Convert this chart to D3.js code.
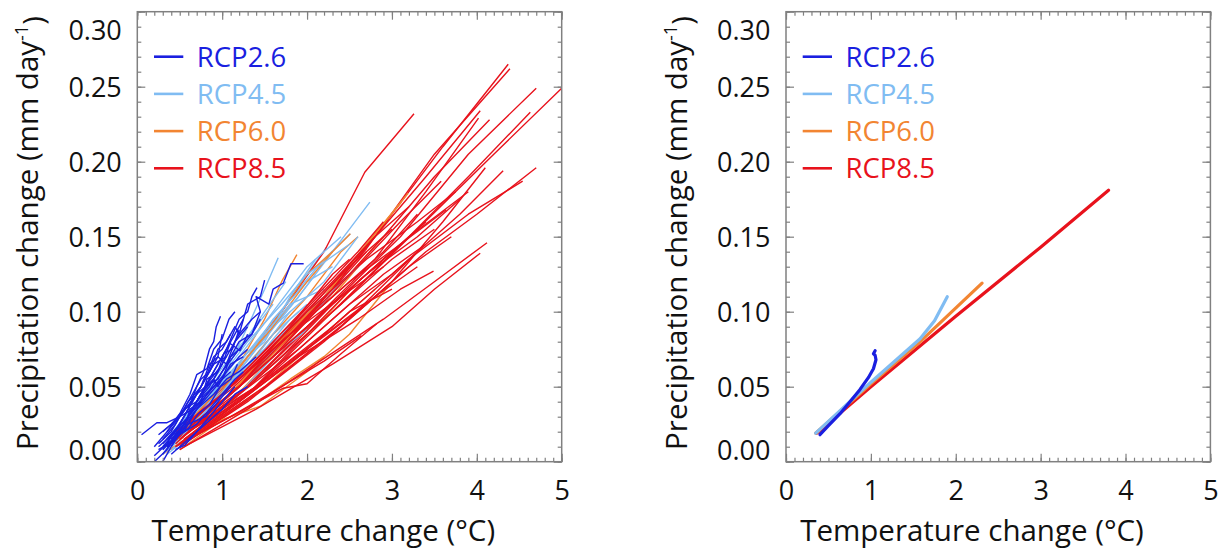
<!DOCTYPE html>
<html><head><meta charset="utf-8">
<script src="https://cdn.jsdelivr.net/npm/d3@7"></script>
<style>
body{margin:0;background:#fff;}
text{font-family:"Open Sans",sans-serif;}
</style>
</head><body>
<svg id="chart" width="1224" height="551"></svg>
<script>
// ---------------- DATA ----------------
const scenarios = ["RCP2.6", "RCP4.5", "RCP6.0", "RCP8.5"];
const xTickValues = [0, 1, 2, 3, 4, 5];
const xTickLabels = ["0", "1", "2", "3", "4", "5"];
const yTickValues = [0.00, 0.05, 0.10, 0.15, 0.20, 0.25, 0.30];
const yTickLabels = ["0.00", "0.05", "0.10", "0.15", "0.20", "0.25", "0.30"];
const xTitle = "Temperature change (°C)";
const yTitle = "Precipitation change (mm day";

// Individual model trajectories [temperature change, precipitation change]
const rcp85Models = [
  [[0.45,0.012],[1.2,0.05],[2.0,0.095],[2.8,0.150],[3.6,0.21],[4.37,0.265]],
  [[0.40,0.018],[1.1,0.048],[1.9,0.09],[2.7,0.142],[3.5,0.205],[4.39,0.262]],
  [[0.50,0.015],[1.3,0.05],[2.2,0.10],[3.1,0.15],[3.9,0.205],[4.70,0.249]],
  [[0.55,0.02],[1.4,0.055],[2.4,0.105],[3.3,0.155],[4.2,0.205],[5.0,0.249]],
  [[0.5,0.02],[1.1,0.055],[1.7,0.10],[2.2,0.14],[2.68,0.193],[3.26,0.232]],
  [[0.45,0.015],[1.2,0.05],[2.0,0.10],[2.8,0.15],[3.4,0.19],[4.04,0.234]],
  [[0.5,0.018],[1.3,0.055],[2.1,0.10],[2.9,0.15],[3.5,0.19],[4.15,0.228]],
  [[0.55,0.015],[1.4,0.05],[2.3,0.10],[3.2,0.15],[3.9,0.19],[4.63,0.233]],
  [[0.4,0.012],[1.2,0.045],[2.0,0.09],[2.8,0.135],[3.4,0.18],[4.02,0.229]],
  [[0.5,0.01],[1.3,0.04],[2.2,0.08],[3.0,0.12],[3.6,0.16],[4.10,0.196]],
  [[0.55,0.012],[1.4,0.045],[2.4,0.09],[3.3,0.14],[3.8,0.165],[4.31,0.194]],
  [[0.6,0.015],[1.5,0.05],[2.5,0.095],[3.4,0.14],[4.0,0.165],[4.70,0.196]],
  [[0.55,0.02],[1.4,0.05],[2.3,0.09],[3.2,0.135],[3.9,0.165],[4.54,0.187]],
  [[0.45,0.02],[1.1,0.05],[1.8,0.085],[2.5,0.12],[3.1,0.145],[3.64,0.168]],
  [[0.5,0.008],[1.3,0.035],[2.1,0.065],[2.9,0.095],[3.5,0.12],[4.12,0.146]],
  [[0.55,0.01],[1.4,0.035],[2.3,0.065],[3.0,0.09],[3.5,0.115],[4.04,0.139]],
  [[0.45,0.015],[1.2,0.04],[1.9,0.07],[2.6,0.095],[3.1,0.115],[3.49,0.127]],
  [[0.5,0.012],[1.1,0.03],[1.72,0.049],[2.0,0.052],[2.4,0.072],[2.82,0.092]],
  [[0.45,0.01],[1.1,0.03],[1.7,0.05],[2.2,0.067],[2.64,0.084]],
  [[0.5,0.02],[1.2,0.055],[1.9,0.09],[2.6,0.13],[3.1,0.16],[3.58,0.187]],
  [[0.4,0.015],[1.0,0.045],[1.7,0.085],[2.3,0.12],[2.8,0.15],[3.2,0.17]],
  [[0.5,0.02],[1.2,0.055],[1.9,0.095],[2.5,0.13],[3.0,0.155]],
  [[0.45,0.012],[1.1,0.045],[1.8,0.08],[2.5,0.115],[3.0,0.14],[3.4,0.16]],
  [[0.55,0.02],[1.3,0.055],[2.0,0.09],[2.7,0.125],[3.3,0.15],[3.8,0.175]],
  [[0.5,0.015],[1.2,0.045],[1.9,0.075],[2.5,0.105],[3.0,0.125],[3.3,0.14]],
  [[0.45,0.018],[1.1,0.05],[1.8,0.085],[2.4,0.11],[2.9,0.13]],
  [[0.6,0.025],[1.3,0.06],[2.0,0.10],[2.7,0.135],[3.3,0.16],[3.75,0.18]],
  [[0.5,0.012],[1.2,0.04],[2.0,0.075],[2.7,0.105],[3.2,0.13],[3.7,0.15]],
  [[0.45,0.01],[1.1,0.04],[1.7,0.07],[2.3,0.105],[2.8,0.13],[3.1,0.145]],
  [[0.55,0.02],[1.2,0.05],[1.8,0.085],[2.3,0.115],[2.7,0.14]],
  [[0.5,0.015],[1.1,0.045],[1.6,0.07],[2.1,0.10],[2.5,0.12],[2.9,0.14],[3.3,0.165]],
  [[0.6,0.02],[1.3,0.05],[1.9,0.08],[2.5,0.11],[3.0,0.135],[3.5,0.155]],
  [[0.5,0.012],[1.2,0.04],[1.8,0.07],[2.4,0.10],[2.9,0.125],[3.4,0.145]],
  [[0.45,0.02],[1.0,0.045],[1.6,0.08],[2.1,0.11],[2.6,0.14],[2.9,0.16]],
  [[0.55,0.015],[1.3,0.045],[2.0,0.085],[2.6,0.12],[3.2,0.15],[3.9,0.18]],
  [[0.5,0.018],[1.2,0.05],[1.8,0.09],[2.3,0.125],[2.5,0.135]],
  [[0.6,0.02],[1.4,0.05],[2.1,0.08],[2.8,0.11],[3.3,0.13]],
  [[0.5,0.01],[1.2,0.04],[1.9,0.07],[2.5,0.10],[3.0,0.115]]
];
const rcp60Models = [
  [[0.4,0.012],[0.8,0.035],[1.2,0.065],[1.5,0.095],[1.7,0.12],[1.88,0.138]],
  [[0.5,0.015],[1.1,0.045],[1.7,0.08],[2.2,0.11],[2.7,0.145],[3.19,0.179]],
  [[0.45,0.012],[1.0,0.04],[1.6,0.075],[2.2,0.11],[2.7,0.145],[3.11,0.173]],
  [[0.5,0.01],[1.1,0.04],[1.6,0.07],[2.1,0.10],[2.5,0.125],[2.9,0.15]],
  [[0.4,0.008],[1.0,0.03],[1.5,0.05],[2.0,0.075],[2.5,0.10],[2.8,0.115]],
  [[0.5,0.015],[1.0,0.04],[1.5,0.07],[2.0,0.10],[2.4,0.12]],
  [[0.45,0.01],[0.9,0.025],[1.3,0.035],[1.8,0.055],[2.2,0.07]],
  [[0.4,0.012],[0.9,0.035],[1.4,0.06],[1.9,0.09],[2.3,0.11],[2.6,0.13]],
  [[0.55,0.02],[1.1,0.05],[1.6,0.085],[2.0,0.11],[2.4,0.14],[2.6,0.15]],
  [[0.35,0.01],[0.8,0.03],[1.2,0.05],[1.6,0.07],[2.0,0.09]],
  [[0.5,0.008],[1.0,0.028],[1.45,0.037],[2.0,0.06],[2.5,0.085],[3.0,0.12]],
  [[0.45,0.015],[0.9,0.04],[1.3,0.07],[1.7,0.10],[2.0,0.125],[2.3,0.14]],
  [[0.3,0.005],[0.7,0.02],[1.1,0.04],[1.5,0.06],[1.9,0.08],[2.3,0.10]],
  [[0.5,0.012],[1.0,0.035],[1.5,0.06],[2.1,0.09],[2.6,0.12],[3.0,0.14]],
  [[0.4,0.015],[1.0,0.05],[1.6,0.09],[2.0,0.12],[2.3,0.14],[2.51,0.152]]
];
const rcp45Models = [
  [[0.35,0.01],[0.7,0.03],[1.0,0.055],[1.3,0.09],[1.5,0.115],[1.66,0.136]],
  [[0.4,0.012],[0.9,0.04],[1.4,0.075],[1.9,0.11],[2.3,0.14],[2.74,0.173]],
  [[0.4,0.015],[0.9,0.045],[1.4,0.08],[1.9,0.115],[2.2,0.135],[2.51,0.152]],
  [[0.35,0.01],[0.8,0.035],[1.3,0.07],[1.7,0.10],[2.0,0.125],[2.23,0.143]],
  [[0.4,0.012],[0.8,0.035],[1.2,0.06],[1.6,0.09],[1.9,0.11],[2.1,0.125]],
  [[0.3,0.008],[0.7,0.028],[1.1,0.05],[1.5,0.075],[1.8,0.095],[2.0,0.105]],
  [[0.45,0.015],[0.9,0.04],[1.3,0.065],[1.6,0.085],[1.9,0.10]],
  [[0.35,0.005],[0.8,0.025],[1.2,0.045],[1.6,0.07],[2.0,0.09],[2.3,0.105]],
  [[0.4,0.018],[0.8,0.045],[1.2,0.075],[1.5,0.10],[1.75,0.12]],
  [[0.3,0.01],[0.7,0.03],[1.0,0.05],[1.3,0.07],[1.6,0.09],[1.8,0.10]],
  [[0.4,0.01],[0.9,0.035],[1.3,0.055],[1.7,0.08],[2.1,0.10],[2.4,0.12]],
  [[0.5,0.02],[0.9,0.045],[1.3,0.07],[1.6,0.095],[2.0,0.12],[2.3,0.13]],
  [[0.35,0.012],[0.8,0.04],[1.2,0.065],[1.5,0.08],[1.8,0.11],[2.1,0.135]],
  [[0.4,0.008],[0.9,0.03],[1.3,0.05],[1.6,0.065],[1.9,0.08]],
  [[0.3,0.005],[0.6,0.02],[1.0,0.04],[1.4,0.06],[1.7,0.075],[2.0,0.088]],
  [[0.45,0.02],[0.9,0.05],[1.3,0.08],[1.7,0.105],[2.0,0.125],[2.5,0.145]],
  [[0.5,0.015],[0.9,0.04],[1.4,0.07],[1.8,0.10],[2.2,0.12],[2.6,0.15]],
  [[0.35,0.015],[0.7,0.04],[1.1,0.07],[1.4,0.09],[1.6,0.105]],
  [[0.4,0.015],[0.8,0.04],[1.2,0.07],[1.6,0.10],[2.0,0.13],[2.4,0.15]],
  [[0.3,0.01],[0.7,0.035],[1.1,0.06],[1.5,0.085],[1.8,0.105],[2.2,0.115]],
  [[0.45,0.012],[0.9,0.04],[1.4,0.07],[1.9,0.095],[2.3,0.115],[2.6,0.13]]
];
const rcp26Models = [
  [[0.25,0.01],[0.45,0.02],[0.6,0.035],[0.7,0.05],[0.78,0.06],[0.85,0.075],[0.9,0.08],[0.93,0.09],[0.98,0.097]],
  [[0.3,0.005],[0.5,0.02],[0.7,0.04],[0.9,0.06],[1.05,0.075],[1.2,0.095],[1.3,0.1],[1.35,0.11],[1.41,0.116]],
  [[0.35,0.015],[0.6,0.03],[0.8,0.05],[1.0,0.065],[1.1,0.08],[1.25,0.095],[1.3,0.105],[1.45,0.11],[1.5,0.121]],
  [[0.4,0.01],[0.7,0.035],[1.0,0.06],[1.2,0.075],[1.35,0.085],[1.45,0.1],[1.4,0.11],[1.55,0.105],[1.6,0.115],[1.72,0.119],[1.81,0.132],[1.96,0.132]],
  [[0.05,0.018],[0.23,0.026],[0.35,0.026],[0.5,0.03],[0.7,0.045],[0.9,0.055],[1.0,0.065]],
  [[0.2,0.004],[0.35,0.012],[0.55,0.02],[0.7,0.035],[0.85,0.045],[1.0,0.055],[1.1,0.06]],
  [[0.3,0.012],[0.5,0.025],[0.65,0.04],[0.8,0.055],[0.9,0.07],[1.0,0.075],[1.1,0.085]],
  [[0.25,0.008],[0.45,0.015],[0.6,0.03],[0.75,0.04],[0.9,0.05],[1.05,0.06],[1.2,0.07],[1.3,0.075]],
  [[0.35,0.01],[0.5,0.018],[0.7,0.025],[0.85,0.035],[1.0,0.045],[1.15,0.055],[1.25,0.06]],
  [[0.3,0.02],[0.5,0.03],[0.7,0.045],[0.85,0.06],[0.95,0.07],[1.05,0.065],[1.15,0.08],[1.3,0.09]],
  [[0.25,0.012],[0.4,0.02],[0.6,0.04],[0.75,0.05],[0.85,0.065],[0.95,0.07],[1.0,0.085]],
  [[0.45,0.02],[0.6,0.03],[0.8,0.045],[1.0,0.055],[1.1,0.07],[1.2,0.08],[1.35,0.085],[1.45,0.095]],
  [[0.4,0.005],[0.6,0.015],[0.8,0.025],[1.0,0.035],[1.15,0.045],[1.3,0.05]],
  [[0.2,0.01],[0.35,0.02],[0.5,0.03],[0.65,0.035],[0.8,0.05],[0.95,0.055],[1.1,0.07],[1.2,0.075]],
  [[0.3,0.0],[0.45,0.015],[0.6,0.025],[0.8,0.03],[0.95,0.04],[1.1,0.05]],
  [[0.45,0.008],[0.56,0.011],[0.7,0.02],[0.82,0.028],[1.0,0.04],[1.15,0.05]],
  [[0.35,0.012],[0.55,0.03],[0.7,0.045],[0.8,0.055],[0.9,0.065],[1.05,0.07],[1.2,0.085],[1.35,0.095],[1.45,0.1]],
  [[0.3,0.008],[0.5,0.02],[0.6,0.03],[0.75,0.045],[0.9,0.055],[0.95,0.05],[1.1,0.065],[1.25,0.07]],
  [[0.4,0.015],[0.55,0.025],[0.7,0.035],[0.9,0.045],[1.05,0.055],[1.2,0.06],[1.4,0.07]],
  [[0.25,0.018],[0.4,0.025],[0.55,0.035],[0.7,0.04],[0.85,0.05],[0.95,0.06],[1.05,0.07]],
  [[0.3,0.015],[0.45,0.025],[0.6,0.04],[0.75,0.055],[0.85,0.06],[0.95,0.075],[1.05,0.08],[1.15,0.09],[1.2,0.085],[1.25,0.095]],
  [[0.35,0.01],[0.55,0.025],[0.75,0.045],[0.9,0.06],[1.0,0.07],[1.09,0.079],[1.21,0.074],[1.3,0.085]],
  [[0.3,0.01],[0.42,0.018],[0.55,0.022],[0.62,0.035],[0.75,0.04],[0.82,0.055],[0.95,0.06],[1.02,0.072],[1.12,0.075],[1.2,0.088]],
  [[0.2,0.0],[0.35,0.008],[0.48,0.018],[0.6,0.022],[0.72,0.032],[0.85,0.038],[0.98,0.05],[1.1,0.055],[1.18,0.065]],
  [[0.35,0.02],[0.5,0.032],[0.62,0.045],[0.7,0.058],[0.82,0.062],[0.9,0.075],[1.0,0.082],[1.08,0.095],[1.15,0.1]]
];

// Multi-model mean trajectories
const rcp85Mean = [[0.36,0.019],[1.0,0.050],[2.0,0.097],[3.0,0.143],[3.8,0.181]];
const rcp60Mean = [[0.35,0.019],[1.0,0.052],[1.6,0.081],[2.31,0.119]];
const rcp45Mean = [[0.35,0.019],[1.0,0.053],[1.3,0.068],[1.58,0.082],[1.75,0.094],[1.90,0.110]];
const rcp26Mean = [[0.40,0.018],[0.5,0.024],[0.637,0.032],[0.87,0.048],[0.97,0.056],[1.03,0.062],[1.06,0.068],[1.05,0.071],[1.03,0.072],[1.05,0.074]];

// ---------------- STYLE / LAYOUT ----------------
const colorOf = {"RCP2.6":"#1a1fe0","RCP4.5":"#80bcf2","RCP6.0":"#f28532","RCP8.5":"#e8121c"};
const modelsOf = {"RCP2.6":rcp26Models,"RCP4.5":rcp45Models,"RCP6.0":rcp60Models,"RCP8.5":rcp85Models};
const meanOf = {"RCP2.6":rcp26Mean,"RCP4.5":rcp45Mean,"RCP6.0":rcp60Mean,"RCP8.5":rcp85Mean};
const drawOrder = ["RCP8.5","RCP6.0","RCP4.5","RCP2.6"];
const mixedOrder = ["RCP8.5","RCP6.0","RCP4.5"];

const svg = d3.select("#chart");
const plotW = 424.4, plotTop = 11.7, plotBottom = 461.7;
const frameColor = "#808080";

function minorTicks(lo, hi, step) {
  const n = Math.round((hi - lo) / step);
  return d3.range(n + 1).map(i => +(lo + i * step).toFixed(4));
}

function panel(x0, kind) {
  const g = svg.append("g");
  const x = d3.scaleLinear().domain([0, 5]).range([x0, x0 + plotW]);
  const y = d3.scaleLinear().domain([0, 0.30]).range([plotBottom, plotTop]);

  // data lines
  const line = d3.line().x(d => x(d[0])).y(d => y(d[1]));
  const lg = g.append("g");
  if (kind === "models") {
    // RCP8.5 / 6.0 / 4.5 interleaved model by model, RCP2.6 on top
    const items = [];
    const nMax = d3.max(mixedOrder, s => modelsOf[s].length);
    for (let i = 0; i < nMax; i++) {
      mixedOrder.forEach(s => { if (modelsOf[s][i]) items.push({s, pts: modelsOf[s][i]}); });
    }
    modelsOf["RCP2.6"].forEach(pts => items.push({s: "RCP2.6", pts}));
    lg.selectAll("path").data(items).enter().append("path")
      .attr("d", d => line(d.pts)).attr("fill", "none").attr("stroke", d => colorOf[d.s])
      .attr("stroke-width", 1.4).attr("stroke-linejoin", "round");
  } else {
    drawOrder.forEach(s => {
      lg.append("path").datum(meanOf[s]).attr("d", line).attr("fill", "none")
        .attr("stroke", colorOf[s]).attr("stroke-width", 3.2)
        .attr("stroke-linejoin", "round").attr("stroke-linecap", "round");
    });
  }

  // minor ticks on all sides (inward)
  const xm = minorTicks(0, 5, 0.1), ym = minorTicks(0, 0.30, 0.01);
  const ax = [
    [d3.axisBottom(x).tickValues(xm).tickSize(-4).tickFormat(""), `translate(0,${plotBottom})`],
    [d3.axisTop(x).tickValues(xm).tickSize(-4).tickFormat(""), `translate(0,${plotTop})`],
    [d3.axisLeft(y).tickValues(ym).tickSize(-4).tickFormat(""), `translate(${x0},0)`],
    [d3.axisRight(y).tickValues(ym).tickSize(-4).tickFormat(""), `translate(${x0 + plotW},0)`],
    [d3.axisTop(x).tickValues(xTickValues).tickSize(-8).tickFormat(""), `translate(0,${plotTop})`],
    [d3.axisRight(y).tickValues(yTickValues).tickSize(-8).tickFormat(""), `translate(${x0 + plotW},0)`]
  ];
  ax.forEach(([a, t]) => {
    const ag = g.append("g").attr("transform", t).call(a);
    ag.select(".domain").remove();
    ag.selectAll("line").attr("stroke", frameColor).attr("stroke-width", 1.2);
  });

  // major labelled axes
  const xa = g.append("g").attr("transform", `translate(0,${plotBottom})`)
    .call(d3.axisBottom(x).tickValues(xTickValues).tickSize(-8).tickPadding(19.5)
      .tickFormat((d, i) => xTickLabels[i]));
  const ya = g.append("g").attr("transform", `translate(${x0},0)`)
    .call(d3.axisLeft(y).tickValues(yTickValues).tickSize(-8).tickPadding(15.5)
      .tickFormat((d, i) => yTickLabels[i]));
  [xa, ya].forEach(a => {
    a.select(".domain").remove();
    a.selectAll("line").attr("stroke", frameColor).attr("stroke-width", 1.2);
    a.selectAll("text").attr("fill", "#111").style("font-size", "27px")
      .style("font-family", '"Open Sans", sans-serif');
  });
  // keep the end labels inside the frame height, as in the original
  ya.selectAll(".tick text").attr("dy", d => d === 0.30 ? "1.02em" : d === 0 ? "-0.08em" : "0.36em");

  // frame
  g.append("rect").attr("x", x0).attr("y", plotTop).attr("width", plotW).attr("height", plotBottom - plotTop)
    .attr("fill", "none").attr("stroke", frameColor).attr("stroke-width", 1.5);

  // legend
  scenarios.forEach((s, i) => {
    const ly = 56.7 + i * 37.2;
    g.append("line").attr("x1", x0 + 16.7).attr("x2", x0 + 46).attr("y1", ly).attr("y2", ly)
      .attr("stroke", colorOf[s]).attr("stroke-width", 2.6);
    g.append("text").attr("x", x0 + 59.5).attr("y", ly).attr("dy", "0.36em")
      .attr("fill", colorOf[s]).style("font-size", "27.5px").text(s);
  });

  // axis titles
  g.append("text").attr("x", x0 + 186).attr("y", 541).attr("text-anchor", "middle")
    .style("font-size", "29.5px").attr("fill", "#111").text(xTitle);
  const yt = g.append("text")
    .attr("transform", `translate(${x0 - 110},${233}) rotate(-90)`)
    .attr("text-anchor", "middle").attr("dy", "0.36em")
    .style("font-size", "29.5px").attr("fill", "#111");
  yt.append("tspan").text(yTitle);
  yt.append("tspan").attr("dy", "-0.55em").style("font-size", "18px").text("-1");
  yt.append("tspan").attr("dy", "0.55em").text(")");
}

panel(137.3, "models");
panel(786, "means");
</script>
</body></html>
